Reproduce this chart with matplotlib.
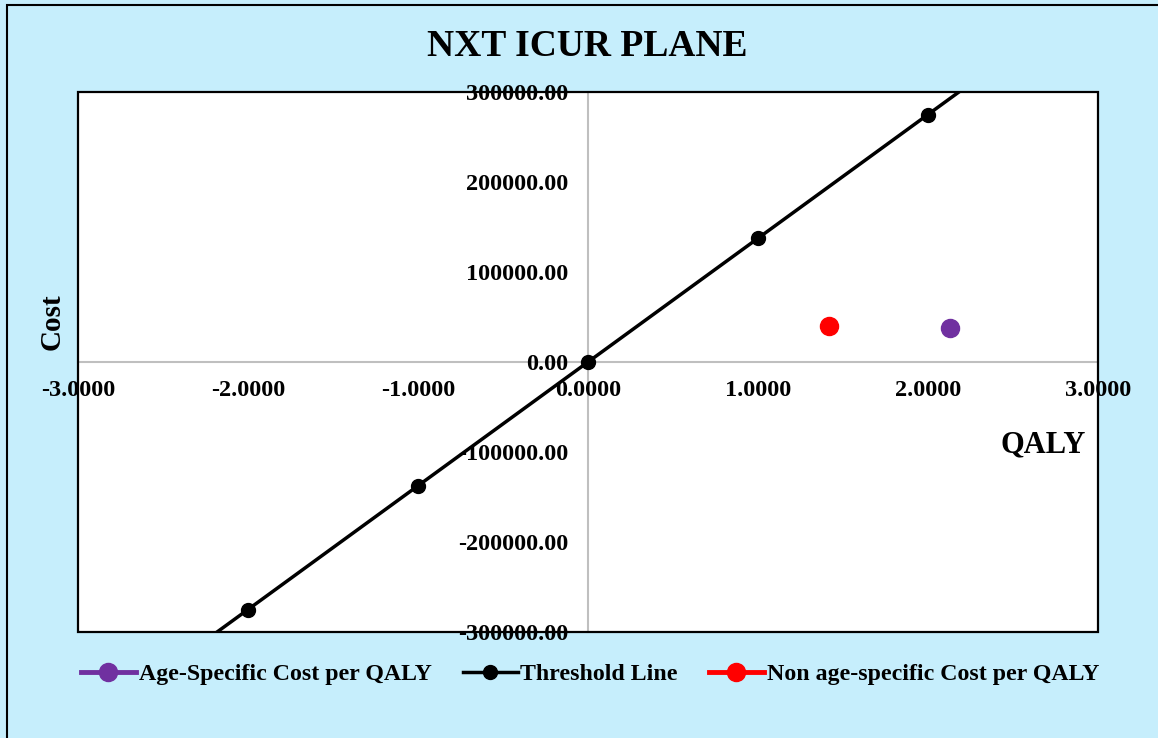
import matplotlib

matplotlib.use("Agg")

import matplotlib.pyplot as plt
from matplotlib.patches import Rectangle

plt.rcParams["font.family"] = ["Liberation Serif", "DejaVu Serif"]
plt.rcParams["font.weight"] = "bold"

BG = "#C6EEFC"
GRID = "#BFBFBF"

# threshold line: cost per QALY at 137,500
threshold_qaly = [-3, -2, -1, 0, 1, 2, 3]
threshold_cost = [-412500, -275000, -137500, 0, 137500, 275000, 412500]

age_specific_qaly = [2.13]
age_specific_cost = [37500]

non_age_qaly = [1.42]
non_age_cost = [40000]

x_ticks = [-3, -2, -1, 0, 1, 2, 3]
y_ticks = [-300000, -200000, -100000, 0, 100000, 200000, 300000]

fig = plt.figure(figsize=(11.58, 7.38), dpi=100, facecolor=BG)
ax = fig.add_axes([78 / 1158, 1 - 632 / 738, 1020 / 1158, 540 / 738])
ax.set_facecolor("white")

ax.plot(age_specific_qaly, age_specific_cost, color="#7030A0", marker="o", markersize=13,
        linewidth=3.5, label="Age-Specific Cost per QALY", zorder=4)
ax.plot(threshold_qaly, threshold_cost, color="black", marker="o", markersize=10,
        linewidth=2.5, label="Threshold Line", zorder=3)
ax.plot(non_age_qaly, non_age_cost, color="#FF0000", marker="o", markersize=13,
        linewidth=3.5, label="Non age-specific Cost per QALY", zorder=4)

ax.set_xlim(-3, 3)
ax.set_ylim(-300000, 300000)
ax.set_xticks(x_ticks)
ax.set_xticklabels([f"{v:.4f}" for v in x_ticks])
ax.set_yticks(y_ticks)
ax.set_yticklabels([f"{v:.2f}" for v in y_ticks])

# zero axes cross in the middle of the plane
ax.spines[["top", "right"]].set_visible(False)
ax.spines["left"].set_position(("data", 0))
ax.spines["bottom"].set_position(("data", 0))
for side in ("left", "bottom"):
    ax.spines[side].set_color(GRID)
    ax.spines[side].set_linewidth(1.5)
    ax.spines[side].set_zorder(1)
ax.tick_params(axis="both", length=0, labelsize=17.5, colors="black")
ax.tick_params(axis="x", pad=13)
ax.tick_params(axis="y", pad=14)
for lbl in ax.get_xticklabels() + ax.get_yticklabels():
    lbl.set_fontweight("bold")
    lbl.set_zorder(6)

ax.add_patch(Rectangle((0, 0), 1, 1, transform=ax.transAxes, fill=False,
                       edgecolor="black", linewidth=1.6, zorder=5, clip_on=False))

fig.text(587 / 1158, 1 - 47 / 738, "NXT ICUR PLANE", ha="center", va="center",
         fontsize=27, fontweight="bold")
fig.text(52 / 1158, 1 - 322 / 738, "Cost", ha="center", va="center", rotation=90,
         fontsize=21, fontweight="bold")
fig.text(1043 / 1158, 1 - 445 / 738, "QALY", ha="center", va="center",
         fontsize=22, fontweight="bold")

fig.legend(loc="center", bbox_to_anchor=(590 / 1158, 1 - 674 / 738), ncol=3, frameon=False,
           prop={"size": 17.2, "weight": "bold"}, handlelength=2.3, handletextpad=0.12,
           columnspacing=1.3)

# outer chart frame, partly cut at the right and bottom
fig.add_artist(Rectangle((7 / 1158, -0.1), 1.2, 1 - 5 / 738 + 0.1, transform=fig.transFigure,
                         fill=False, edgecolor="black", linewidth=1.5))

fig.savefig("out.png", dpi=100, facecolor=fig.get_facecolor())
